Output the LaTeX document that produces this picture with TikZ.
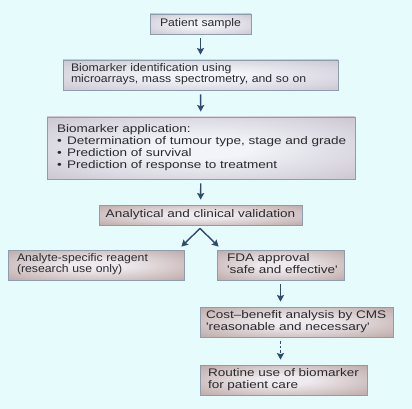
\documentclass[tikz,border=0pt]{standalone}
\usepackage{fontspec}
\setmainfont{Liberation Sans}[Ligatures=TeXOff]
\newfontfamily\fnta{Liberation Sans}[FakeStretch=1.113, Ligatures=TeXOff]
\newfontfamily\fntb{Liberation Sans}[FakeStretch=1.23, Ligatures=TeXOff]
\usetikzlibrary{arrows.meta,calc}
\definecolor{bg}{HTML}{E6FBFB}
\definecolor{bordc}{HTML}{8E9CAE}
\definecolor{txt}{HTML}{2A2A2E}
\definecolor{arrc}{HTML}{2F4B6E}
\definecolor{cinA}{HTML}{F2F4FA}
\definecolor{coutA}{HTML}{B8B0BC}
\definecolor{cinB}{HTML}{EEEAEE}
\definecolor{coutB}{HTML}{A58884}
\pgfdeclareradialshading{shadeA}{\pgfpoint{0bp}{0bp}}{color(0bp)=(cinA); color(8bp)=(cinA); color(50bp)=(coutA); color(75bp)=(coutA)}
\pgfdeclareradialshading{shadeB}{\pgfpoint{0bp}{0bp}}{color(0bp)=(cinB); color(8bp)=(cinB); color(50bp)=(coutB); color(75bp)=(coutB)}
\newcommand{\bul}{\makebox[10pt][l]{\raisebox{0.3pt}{\fontsize{11}{11}\selectfont •}}}
\newcommand{\lns}[1]{\begin{tabular}{@{}l@{}}#1\end{tabular}}
\begin{document}
\begin{tikzpicture}[x=1pt,y=-1pt,
  boxbase/.style={draw=bordc, line width=0.8pt, inner ysep=0pt, text=txt},
  boxA/.style={boxbase, shading=shadeA},
  boxB/.style={boxbase, shading=shadeB},
  txta/.style={font=\fnta\fontsize{11}{11}\selectfont},
  txtb/.style={font=\fntb\fontsize{11}{12}\selectfont},
  arr/.style={draw=arrc, line width=1.4pt, -{Stealth[length=6.5pt,width=7pt,inset=1pt]},
    shorten <=4pt, shorten >=5pt},
  dotarr/.style={arr, dash pattern=on 2.5pt off 2pt}]
\useasboundingbox (0,0) rectangle (412,409);
\fill[bg] (0,0) rectangle (412,409);

\node[boxA, txta, minimum width=101pt, minimum height=20pt] (ps) at (200.5,24) {Patient sample};
\node[boxA, txta, text width=259pt, inner xsep=8pt, minimum height=30pt, align=left] (bi) at (200.5,75)
  {\lns{Biomarker identification using\\microarrays, mass spectrometry, and so on}};
\node[boxA, txtb, text width=288pt, inner xsep=10pt, minimum height=62pt, align=left] (ba) at (201,148)
  {\lns{Biomarker application:\\\bul Determination of tumour type, stage and grade\\\bul Prediction of survival\\\bul Prediction of response to treatment}};
\node[boxB, txtb, minimum width=203pt, minimum height=20pt] (av) at (200.5,215) {Analytical and clinical validation};
\node[boxB, txta, text width=158pt, inner xsep=9pt, minimum height=30pt, align=left] (asr) at (96,265)
  {\lns{Analyte-specific reagent\\(research use only)}};
\node[boxB, txtb, text width=107pt, inner xsep=10pt, minimum height=30pt, align=left] (fda) at (280.5,265)
  {\lns{FDA approval\\'safe and effective'}};
\node[boxB, txtb, text width=181pt, inner xsep=6pt, minimum height=30pt, align=left] (cba) at (296.5,322)
  {\lns{Cost–benefit analysis by CMS\\'reasonable and necessary'}};
\node[boxB, txtb, text width=151pt, inner xsep=8pt, minimum height=30pt, align=left] (ru) at (283.5,380)
  {\lns{Routine use of biomarker\\for patient care}};

\draw[arr] (ps) -- (bi);
\draw[arr] (bi) -- (ba);
\draw[arr] (ba) -- (av);
\coordinate (apex) at ($(av.south)+(-0.5,3)$);
\coordinate (fl) at ($(asr.north east)+(-3,-3)$);
\coordinate (fr) at ($(fda.north west)+(2,-3)$);
\draw[arr, shorten <=0pt, shorten >=0pt] (apex) -- (fl);
\draw[arr, shorten <=0pt, shorten >=0pt] (apex) -- (fr);
\draw[arr] (fda.south) -- (fda.south |- cba.north);
\draw[dotarr] (fda.south |- cba.south) -- (fda.south |- ru.north);
\end{tikzpicture}
\end{document}
